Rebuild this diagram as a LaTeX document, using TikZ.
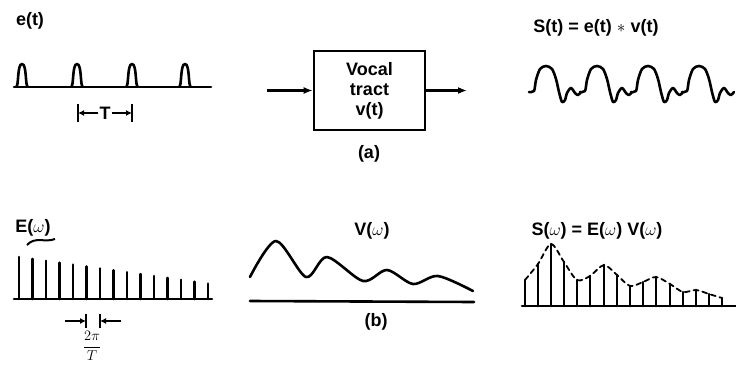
\documentclass[tikz,border=0pt]{standalone}
\usepackage{fontspec}
\setsansfont{Liberation Sans}
\usetikzlibrary{arrows.meta,positioning}
\tikzset{
  tractbox/.style={rectangle, draw, line width=2.6pt, minimum width=111pt, minimum height=79pt,
                   align=center, inner sep=0pt, font=\sffamily\bfseries\fontsize{18}{20}\selectfont},
  sig/.style={line width=2.6pt, line join=round, line cap=round},
  envelope/.style={line width=1.8pt, dash pattern=on 5pt off 4pt, line cap=round},
  arrow/.style={-{Latex[length=9pt,width=7pt]}, line width=2.6pt},
  dimarrow/.style={-{Latex[length=6pt,width=6pt]}, line width=2pt},
  dimbar/.style={line width=2pt},
  lbl/.style={font=\sffamily\bfseries\fontsize{18}{21}\selectfont, inner sep=1pt},
}
\begin{document}
\begin{tikzpicture}[x=1pt,y=-1pt]
\useasboundingbox (0,0) rectangle (736,364);

\node[lbl] (etlabel) at (30,21) {e(t)};
\draw[sig] (14,87) -- (211,87);
\foreach \p in {22,77,132,185}
  \draw[sig] ({\p-6},87) .. controls ({\p-3},87) and ({\p-5},64) .. (\p,64)
             .. controls ({\p+5},64) and ({\p+3},87) .. ({\p+6},87);
\node[lbl] (tlabel) at (105,113) {T};
\coordinate (tleft) at (78,113);
\coordinate (tright) at (132,113);
\draw[dimbar] (78,104) -- (78,122) (132,104) -- (132,122);
\draw[dimarrow] (tlabel) -- (tleft);
\draw[dimarrow] (tlabel) -- (tright);

\node[tractbox] (tract) at (369.5,90.5) {Vocal\\tract\\v(t)};
\coordinate (src) at (267,90.5);
\coordinate (snk) at (467,90.5);
\draw[arrow] (src) -- (tract);
\draw[arrow] (tract) -- (snk);
\node[lbl] (capa) at (369,154) {(a)};

\node[lbl] (stlabel) at (596,28) {S(t) = e(t) $*$ v(t)};
\foreach \p in {547,598,649,700}
  \draw[sig] plot[smooth] coordinates {({\p-18},92) ({\p-13},91) ({\p-11},80) ({\p-7},69)
    ({\p-1},66) ({\p+5},69) ({\p+9},79) ({\p+12},92) ({\p+15},102) ({\p+18},100)
    ({\p+20},93) ({\p+24},88) ({\p+28},93) ({\p+31},95) ({\p+34},92)};

\node[lbl] (ewlabel) at (33,228) {E($\omega$)};
\draw[line width=2pt] (27,245) .. controls (35,236) and (45,243) .. (55,239);
\draw[sig] (14,299) -- (212,299);
\foreach \i in {0,...,14}
  \draw[sig] ({19+13.5*\i},299) -- ({19+13.5*\i},{257+1.9*\i});
\coordinate (fleft) at (86,321);
\coordinate (fright) at (100,321);
\coordinate (fouterl) at (65,321);
\coordinate (fouterr) at (121,321);
\draw[dimbar] (86,314) -- (86,328) (100,314) -- (100,328);
\draw[dimarrow] (fouterl) -- (fleft);
\draw[dimarrow] (fouterr) -- (fright);
\node[font=\fontsize{15}{17}\selectfont, inner sep=0pt] (flabel) at (92,346) {$\displaystyle\frac{2\pi}{T}$};

\node[lbl] (vwlabel) at (372,231) {V($\omega$)};
\draw[sig] plot[smooth] coordinates {(250,277) (276,241) (306,277) (327,257) (363,281)
  (387,270) (413,284) (438,276) (473,291)};
\draw[sig] (250,301) -- (474,302);
\node[lbl] (capb) at (376,322) {(b)};

\node[lbl] (swlabel) at (597,231) {S($\omega$) = E($\omega$) V($\omega$)};
\draw[sig] (522,306) -- (736,306);
\foreach \x/\t in {525/280, 538/264, 551/244, 564/262, 577/280, 590/276, 604/265, 617/275,
                   630/286, 643/282, 656/277, 670/284, 683/292, 696/290, 709/294, 722/298}
  \draw[sig] (\x,306) -- (\x,\t);
\draw[envelope] plot[smooth] coordinates {(525,280) (538,264) (551,244) (564,262) (577,280)
  (590,276) (604,265) (617,275) (630,286) (643,282) (656,277) (670,284) (683,292) (696,290)
  (709,294) (722,298)};
\end{tikzpicture}
\end{document}
